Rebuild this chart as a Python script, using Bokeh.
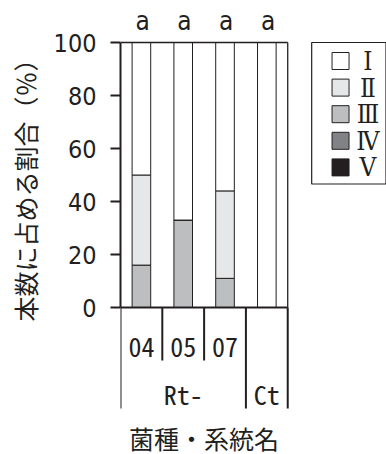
import numpy as np
from bokeh.core.properties import value
from bokeh.embed import file_html
from bokeh.models import ColumnDataSource, FixedTicker, LinearAxis, Range1d, Title
from bokeh.plotting import figure
from bokeh.resources import INLINE

# ---- data -------------------------------------------------------------
strains = ["04", "05", "07", "Ct"]          # bar labels
groups = ["Rt-", "Rt-", "Rt-", "Ct"]        # species row under the bars
classes = ["Ⅰ", "Ⅱ", "Ⅲ", "Ⅳ", "Ⅴ"]        # legend order
share_1 = [50, 67, 56, 100]
share_2 = [34, 0, 33, 0]
share_3 = [16, 33, 11, 0]
share_4 = [0, 0, 0, 0]
share_5 = [0, 0, 0, 0]
letters = ["a", "a", "a", "a"]
y_ticks = [0, 20, 40, 60, 80, 100]

# ---- styling ----------------------------------------------------------
INK = "#231f20"
fills = ["#ffffff", "#e6e7e8", "#bcbec0", "#808285", "#231f20"]
NARROW = "'Liberation Sans Narrow', 'DejaVu Sans Condensed', 'Liberation Sans', sans-serif"
MONO = "'Noto Sans Mono CJK JP', 'DejaVu Sans Mono', monospace"
GOTHIC = "Noto Sans CJK JP"
ROMAN = "'DejaVu Serif Condensed', 'DejaVu Serif', serif"

W, H = 386, 454
FRAME_L = 114            # left edge of the plotting area (px)
UNIT_X = 42.75           # width of one category (px)
Y0_PX, Y100_PX = 307, 42
PX_PER = (Y0_PX - Y100_PX) / 100.0


def xd(px):
    return (px - FRAME_L) / UNIT_X


def yd(py):
    return (Y0_PX - py) / PX_PER


p = figure(
    width=W, height=H, output_backend="svg", toolbar_location=None, title=None,
    x_range=Range1d(xd(FRAME_L), xd(W)), y_range=Range1d(yd(H), yd(0)),
    x_axis_type=None, y_axis_type=None,
    min_border_left=FRAME_L, min_border_right=0,
    min_border_top=0, min_border_bottom=0,
)
p.outline_line_color = None
p.background_fill_color = "white"
p.border_fill_color = "white"

n = len(strains)
xs = np.arange(n) + 0.5

keys = ["c1", "c2", "c3", "c4", "c5"]
src = ColumnDataSource(dict(x=xs, c1=share_1, c2=share_2, c3=share_3,
                            c4=share_4, c5=share_5))

# stacked bars, class Ⅴ at the bottom up to class Ⅰ at the top
p.vbar_stack(keys[::-1], x="x", width=0.445, source=src,
             fill_color=fills[::-1], line_color=INK, line_width=1)

# y axis
yax = LinearAxis(bounds=(0, 100), ticker=FixedTicker(ticks=y_ticks))
yax.axis_line_color = INK
yax.axis_line_width = 2
yax.major_tick_line_color = INK
yax.major_tick_line_width = 2
yax.major_tick_out = 10
yax.major_tick_in = 0
yax.minor_tick_out = 0
yax.minor_tick_in = 0
yax.major_label_standoff = 14
yax.major_label_text_font = NARROW
yax.major_label_text_font_size = "25px"
yax.major_label_text_color = INK
p.add_layout(yax, "left")

# y title, outside the axis, starting level with the lower table edge
p.add_layout(Title(text="本数に占める割合（％）", align="left", offset=133,
                   vertical_align="top", standoff=12,
                   text_font=GOTHIC, text_font_size="25px",
                   text_font_style="normal", text_color=INK), "left")

# frame: top and right edges, baseline
p.segment(x0=[0], y0=[100], x1=[n], y1=[100], line_color=INK, line_width=1.3)
p.segment(x0=[n], y0=[0], x1=[n], y1=[100], line_color=INK, line_width=1.3)
p.segment(x0=[0], y0=[0], x1=[n], y1=[0], line_color=INK, line_width=2)

# category table under the bars
y_row1 = yd(360)
y_row2 = yd(408)
bx0, by1 = [], []
for i in range(n + 1):
    bx0.append(i)
    if i == 0 or i == n or groups[i] != groups[i - 1]:
        by1.append(y_row2)
    else:
        by1.append(y_row1)
p.segment(x0=bx0, y0=[0] * len(bx0), x1=bx0, y1=by1, line_color=INK, line_width=2)

# strain labels (only groups with several strains get a strain row)
strain_lab = [s if groups.count(g) > 1 else "" for s, g in zip(strains, groups)]
p.text(x=xs, y=[yd(347)] * n, text=strain_lab,
       text_font=value(MONO), text_font_size="26px", text_color=INK,
       text_align="center", text_baseline="middle")

g_names, g_centers = [], []
for g in dict.fromkeys(groups):
    idx = [i for i, gg in enumerate(groups) if gg == g]
    g_names.append(g)
    g_centers.append((min(idx) + max(idx) + 1) / 2)
p.text(x=g_centers, y=[yd(393)] * len(g_names), text=g_names,
       text_font=value(MONO), text_font_size="26px", text_color=INK,
       text_align="center", text_baseline="middle")

# x title
p.text(x=[n / 2], y=[yd(437)], text=["菌種・系統名"],
       text_font=value(GOTHIC), text_font_size="25px", text_color=INK,
       text_align="center", text_baseline="middle")

# significance letters
p.text(x=xs + 0.03, y=[yd(20)] * n, text=letters,
       text_font=value(NARROW), text_font_size="26px", text_color=INK,
       text_align="center", text_baseline="alphabetic")

# legend
row_y = [yd(60.5 + 26.6 * k) for k in range(len(classes))]
p.quad(left=[xd(309.5)], right=[xd(385.5)], top=[yd(42)], bottom=[yd(183.5)],
       fill_color=None, line_color=INK, line_width=1.2)
p.rect(x=[xd(339)] * len(classes), y=row_y, width=17, height=17,
       width_units="screen", height_units="screen",
       fill_color=fills, line_color=INK, line_width=1)
p.text(x=[xd(367)] * len(classes), y=row_y, text=classes,
       text_font=value(ROMAN), text_font_size="26px", text_color=INK,
       text_align="center", text_baseline="middle")

open("out.html", "w").write(file_html(p, INLINE))
